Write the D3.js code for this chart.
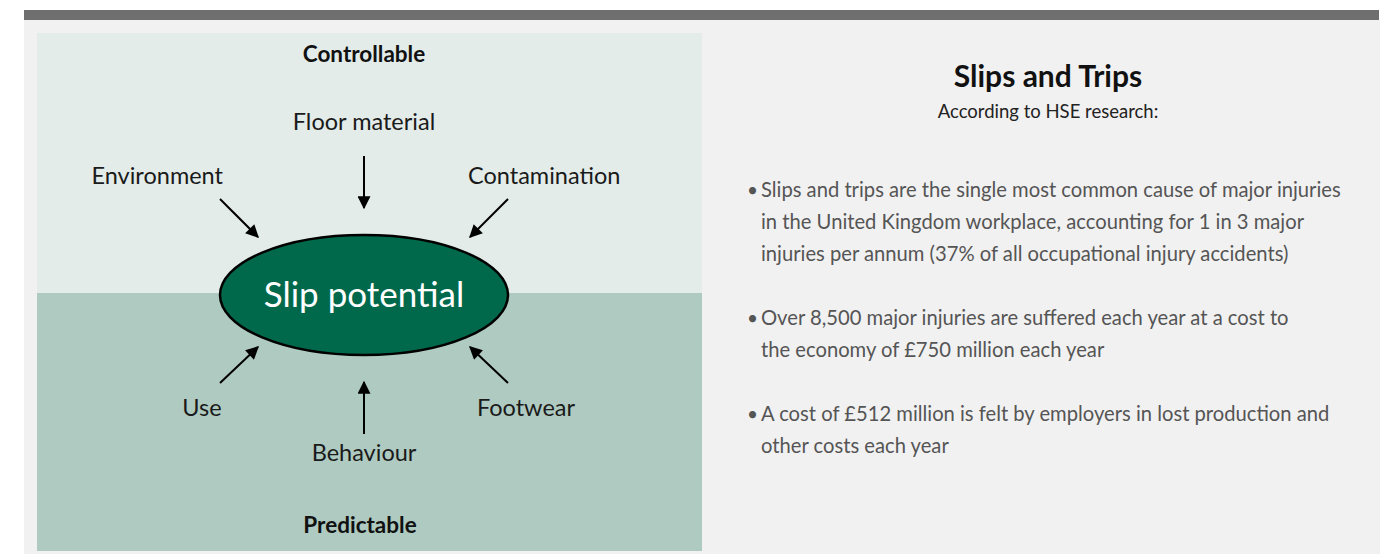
<!DOCTYPE html>
<html>
<head>
<style>
body { margin: 0; background: #ffffff; }
text { font-family: Lato, "Open Sans", sans-serif; }
</style>
</head>
<body>

<div>
    <svg width="1399" height="554"></svg>
</div>

</body>

<script src="https://d3js.org/d3.v7.min.js"></script>
<script>

let width = 1399, height = 554;

// diagram content
let centreLabel = "Slip potential";
let topLabel = "Controllable";
let bottomLabel = "Predictable";

// factors around the ellipse: gx = column (-1 left, 0 middle, 1 right), gy = row (-1 above, 1 below)
let factors = [
    {name: "Environment", gx: -1, gy: -1},
    {name: "Floor material", gx: 0, gy: -1},
    {name: "Contamination", gx: 1, gy: -1},
    {name: "Use", gx: -1, gy: 1},
    {name: "Behaviour", gx: 0, gy: 1},
    {name: "Footwear", gx: 1, gy: 1}
];

// right hand text
let title = "Slips and Trips";
let subtitle = "According to HSE research:";
let bullets = [
    ["Slips and trips are the single most common cause of major injuries",
     "in the United Kingdom workplace, accounting for 1 in 3 major",
     "injuries per annum (37% of all occupational injury accidents)"],
    ["Over 8,500 major injuries are suffered each year at a cost to",
     "the economy of £750 million each year"],
    ["A cost of £512 million is felt by employers in lost production and",
     "other costs each year"]
];

let svg = d3.select('svg');

// background panels
svg.append('rect').attr('x', 24).attr('y', 20).attr('width', 1356).attr('height', 534).attr('fill', '#f1f1f1');
svg.append('rect').attr('x', 24).attr('y', 10).attr('width', 1355).attr('height', 10).attr('fill', '#6f6f6f');
svg.append('rect').attr('x', 37).attr('y', 33).attr('width', 665).attr('height', 260).attr('fill', '#e3ece9');
svg.append('rect').attr('x', 37).attr('y', 293).attr('width', 665).attr('height', 258).attr('fill', '#afcac0');

// arrow marker
svg.append('defs').append('marker')
    .attr('id', 'head')
    .attr('viewBox', '0 0 10 10')
    .attr('refX', 9).attr('refY', 5)
    .attr('markerUnits', 'userSpaceOnUse')
    .attr('markerWidth', 15).attr('markerHeight', 13)
    .attr('orient', 'auto')
    .append('path')
    .attr('d', 'M0,0 L10,5 L0,10 z')
    .attr('fill', '#000');

let cx = 364, cy = 295;

// arrow ends relative to the ellipse centre
function arrowEnds(d) {
    if (d.gx == 0) {
        return {x1: 0, y1: 139 * d.gy, x2: 0, y2: 87 * d.gy};
    }
    return {x1: 144 * d.gx, y1: (d.gy < 0 ? 96 : 88) * d.gy, x2: 106 * d.gx, y2: (d.gy < 0 ? 58 : 52) * d.gy};
}

function labelPos(d) {
    if (d.gx == 0) {
        return {x: 0, y: d.gy < 0 ? -165 : 166, anchor: 'middle'};
    }
    if (d.gy < 0) {
        return d.gx < 0 ? {x: -141, y: -111, anchor: 'end'} : {x: 104, y: -111, anchor: 'start'};
    }
    return {x: 162 * d.gx, y: 121, anchor: 'middle'};
}

let g = svg.append('g').attr('transform', 'translate(' + cx + ',' + cy + ')');

g.selectAll('line.arrow').data(factors).join('line')
    .attr('class', 'arrow')
    .attr('x1', function(d) { return arrowEnds(d).x1; })
    .attr('y1', function(d) { return arrowEnds(d).y1; })
    .attr('x2', function(d) { return arrowEnds(d).x2; })
    .attr('y2', function(d) { return arrowEnds(d).y2; })
    .attr('stroke', '#000')
    .attr('stroke-width', 2)
    .attr('marker-end', 'url(#head)');

g.selectAll('text.factor').data(factors).join('text')
    .attr('class', 'factor')
    .attr('x', function(d) { return labelPos(d).x; })
    .attr('y', function(d) { return labelPos(d).y; })
    .attr('text-anchor', function(d) { return labelPos(d).anchor; })
    .style('font-size', '23.5px')
    .style('fill', '#1a1a1a')
    .text(function(d) { return d.name; });

g.append('ellipse')
    .attr('rx', 144).attr('ry', 60)
    .attr('fill', '#00694c')
    .attr('stroke', '#000')
    .attr('stroke-width', 2.5);

g.append('text')
    .attr('y', 12)
    .attr('text-anchor', 'middle')
    .style('font-size', '35px')
    .style('fill', '#fff')
    .text(centreLabel);

g.append('text')
    .attr('y', -233)
    .attr('text-anchor', 'middle')
    .style('font-size', '22.5px')
    .style('font-weight', 'bold')
    .style('fill', '#111')
    .text(topLabel);

g.append('text')
    .attr('x', -4)
    .attr('y', 238)
    .attr('text-anchor', 'middle')
    .style('font-size', '22.5px')
    .style('font-weight', 'bold')
    .style('fill', '#111')
    .text(bottomLabel);

// right side text
svg.append('text')
    .attr('x', 1048).attr('y', 87)
    .attr('text-anchor', 'middle')
    .style('font-size', '30px')
    .style('font-weight', 'bold')
    .style('fill', '#111')
    .text(title);

svg.append('text')
    .attr('x', 1048).attr('y', 118)
    .attr('text-anchor', 'middle')
    .style('font-size', '18.5px')
    .style('fill', '#222')
    .text(subtitle);

let lineH = 32, gapH = 32;
let y0 = 197;
let blocks = [];
let yy = y0;
bullets.forEach(function(lines) {
    blocks.push({lines: lines, y: yy});
    yy += lines.length * lineH + gapH;
});

let b = svg.selectAll('g.bullet').data(blocks).join('g')
    .attr('class', 'bullet')
    .attr('transform', function(d) { return 'translate(0,' + d.y + ')'; });

b.append('text')
    .attr('x', 747)
    .style('font-size', '19px')
    .style('fill', '#555')
    .text('•');

b.selectAll('text.line').data(function(d) { return d.lines; }).join('text')
    .attr('class', 'line')
    .attr('x', 761)
    .attr('y', function(d, i) { return i * lineH; })
    .style('font-size', '20.2px')
    .style('fill', '#555')
    .text(function(d) { return d; });

</script>

</html>
